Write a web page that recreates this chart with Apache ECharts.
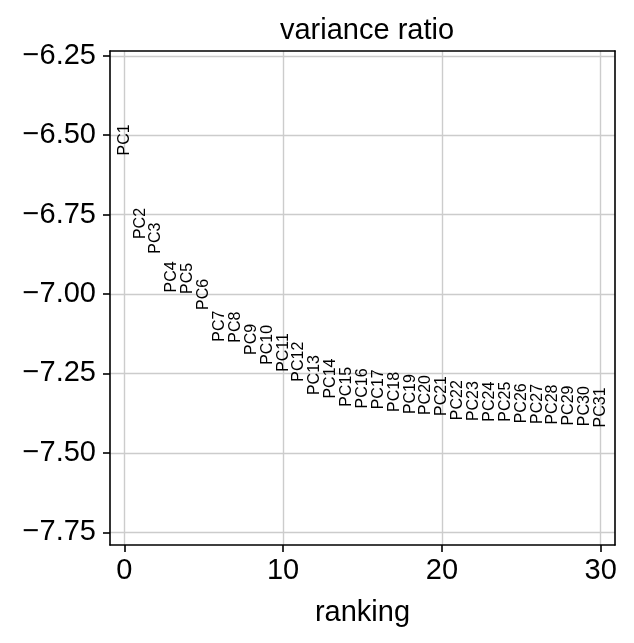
<!DOCTYPE html>
<html>
<head>
<meta charset="utf-8">
<script src="https://cdn.jsdelivr.net/npm/echarts@6/dist/echarts.min.js"></script>
<style>
  html, body { margin: 0; padding: 0; background: #fff; }
  #chart { width: 634px; height: 643px; }
</style>
</head>
<body>
<div id="chart"></div>
<script>
// variance ratio (log) per principal component
const pcLabels = ['PC1','PC2','PC3','PC4','PC5','PC6','PC7','PC8','PC9','PC10',
  'PC11','PC12','PC13','PC14','PC15','PC16','PC17','PC18','PC19','PC20',
  'PC21','PC22','PC23','PC24','PC25','PC26','PC27','PC28','PC29','PC30','PC31']
const ranking = pcLabels.map((_, i) => i)
const varRatio = [-6.564, -6.827, -6.873, -6.995, -7.000, -7.050, -7.150, -7.153, -7.192, -7.223,
  -7.245, -7.276, -7.318, -7.329, -7.355, -7.360, -7.363, -7.371, -7.378, -7.381,
  -7.384, -7.397, -7.400, -7.402, -7.402, -7.407, -7.409, -7.411, -7.414, -7.416, -7.420]
const xTicks = [0, 10, 20, 30]
const yTicks = [-7.75, -7.5, -7.25, -7.0, -6.75, -6.5, -6.25]

const font = "'Liberation Sans', Arial, Helvetica, sans-serif"
const spine = { color: '#000', width: 1.6 }

const myChart = echarts.init(document.getElementById('chart'))
myChart.setOption({
  animation: false,
  backgroundColor: '#fff',
  title: {
    text: 'variance ratio',
    left: 362,
    textAlign: 'center',
    top: 11,
    textStyle: { fontFamily: font, fontSize: 29, fontWeight: 'normal', color: '#000' }
  },
  grid: { left: 110, right: 19, top: 51, bottom: 98 },
  xAxis: [{
    type: 'value',
    min: -0.9,
    max: 30.9,
    name: 'ranking',
    nameLocation: 'middle',
    nameGap: 53,
    nameTextStyle: { fontFamily: font, fontSize: 29, color: '#000' },
    axisLine: { onZero: false, lineStyle: spine },
    axisTick: { customValues: xTicks, length: 7, lineStyle: spine },
    axisLabel: { customValues: xTicks, margin: 11, fontFamily: font, fontSize: 29, color: '#000' },
    splitLine: { show: true, lineStyle: { color: '#cccccc', width: 1.4 } }
  }, {
    // top spine
    type: 'value', position: 'top', min: -0.9, max: 30.9,
    axisLine: { onZero: false, lineStyle: spine },
    axisTick: { show: false }, axisLabel: { show: false }, splitLine: { show: false }
  }],
  yAxis: [{
    type: 'value',
    min: -7.79,
    max: -6.235,
    axisLine: { show: true, onZero: false, lineStyle: spine },
    axisTick: { show: true, customValues: yTicks, length: 7, lineStyle: spine },
    axisLabel: {
      customValues: yTicks, margin: 14, fontFamily: font, fontSize: 29, color: '#000',
      formatter: v => (v < 0 ? '\u2212' : '') + Math.abs(v).toFixed(2)
    },
    splitLine: { show: true, lineStyle: { color: '#cccccc', width: 1.4 } }
  }, {
    // right spine
    type: 'value', position: 'right', min: -7.79, max: -6.235,
    axisLine: { show: true, onZero: false, lineStyle: spine },
    axisTick: { show: false }, axisLabel: { show: false }, splitLine: { show: false }
  }],
  series: [{
    type: 'custom',
    data: ranking.map((r, i) => [r, varRatio[i]]),
    renderItem: function (params, api) {
      const p = api.coord([api.value(0), api.value(1)])
      return {
        type: 'text',
        x: p[0],
        y: p[1],
        rotation: Math.PI / 2,
        style: {
          text: pcLabels[params.dataIndex],
          fontFamily: font,
          fontSize: 16,
          fill: '#000',
          align: 'left',
          verticalAlign: 'middle'
        }
      }
    }
  }]
})
</script>
</body>
</html>
